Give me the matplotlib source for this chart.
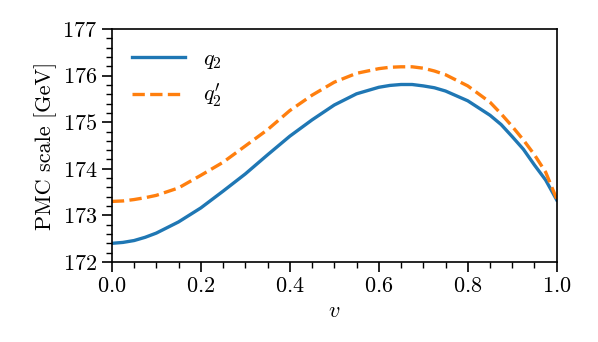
import numpy as np
import matplotlib
matplotlib.use("Agg")
import matplotlib.pyplot as plt
from matplotlib.ticker import MultipleLocator

# values
v = [0.0, 0.025, 0.05, 0.075, 0.1, 0.15, 0.2, 0.25, 0.3, 0.35, 0.4, 0.45, 0.5,
     0.55, 0.6, 0.625, 0.65, 0.675, 0.7, 0.725, 0.75, 0.8, 0.85, 0.875, 0.9,
     0.925, 0.95, 0.975, 1.0]
q2 = [172.40, 172.42, 172.46, 172.53, 172.62, 172.86, 173.16, 173.52, 173.89, 174.30, 174.70,
      175.05, 175.37, 175.61, 175.75, 175.79, 175.81, 175.81, 175.78, 175.74, 175.67, 175.46,
      175.15, 174.95, 174.69, 174.42, 174.08, 173.76, 173.33]
q2p = [173.30, 173.31, 173.34, 173.38, 173.43, 173.59, 173.86, 174.14, 174.49, 174.84, 175.25,
       175.58, 175.86, 176.05, 176.15, 176.18, 176.19, 176.19, 176.16, 176.10, 176.02, 175.78,
       175.43, 175.18, 174.91, 174.62, 174.30, 173.93, 173.35]

plt.rcParams['font.family'] = 'serif'
plt.rcParams['font.serif'] = ['cmr10']
plt.rcParams['mathtext.fontset'] = 'cm'
plt.rcParams['axes.formatter.use_mathtext'] = True
plt.rcParams['font.size'] = 16

fig = plt.figure(figsize=(5.98, 3.42), dpi=100)
ax = fig.add_axes([0.187, 0.234, 0.744, 0.681])

ax.plot(v, q2, color='#1f77b4', lw=2.4, label=r'$q_2$')
ax.plot(v, q2p, color='#ff7f0e', lw=2.4, ls='--', label=r"$q_2'$")

ax.set_xlim(0, 1)
ax.set_ylim(172, 177)
ax.xaxis.set_major_locator(MultipleLocator(0.2))
ax.xaxis.set_minor_locator(MultipleLocator(0.05))
ax.yaxis.set_major_locator(MultipleLocator(1))
ax.yaxis.set_minor_locator(MultipleLocator(0.2))
ax.tick_params(which='major', length=7, width=1.2, labelsize=16)
ax.tick_params(which='minor', length=4, width=1)
for s in ax.spines.values():
    s.set_linewidth(1.2)

ax.set_xlabel(r'$v$', fontsize=16)
ax.set_ylabel('PMC scale [GeV]', fontsize=16)

ax.legend(loc='upper left', frameon=False, fontsize=16, handlelength=2.4)

fig.savefig('out.png', dpi=100)
